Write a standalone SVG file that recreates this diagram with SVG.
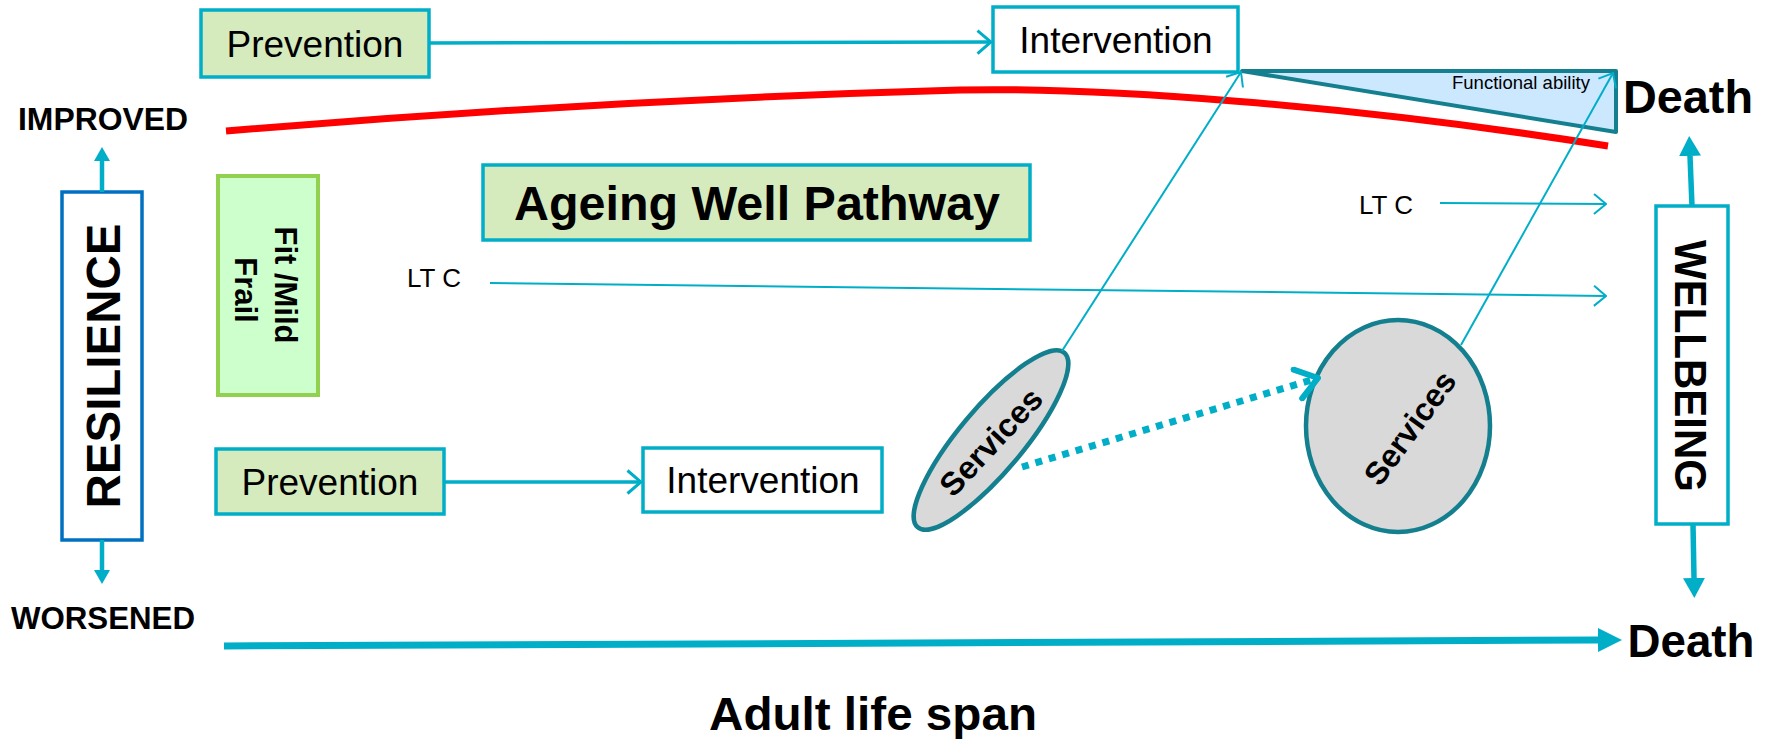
<svg xmlns="http://www.w3.org/2000/svg" width="1771" height="739" viewBox="0 0 1771 739">
  <style>
    text { font-family: "Liberation Sans", Arial, sans-serif; fill: #000; }
    .box { stroke: #00AEC8; stroke-width: 3.5; }
    .green { fill: #D6EBBD; }
    .white { fill: #FFFFFF; }
    .lbl { font-size: 37px; text-anchor: middle; }
    .bold { font-weight: bold; }
    .svc { fill: #D9D9D9; stroke: #14808F; stroke-width: 4.5; }
    .conn { fill: none; stroke: #00AEC8; }
  </style>
  <defs>
    <!-- open chevron heads -->
    <marker id="chev" viewBox="0 0 16 26" refX="15" refY="13" markerWidth="16" markerHeight="26" markerUnits="userSpaceOnUse" orient="auto">
      <path d="M1.5,1.5 L15,13 L1.5,24.5" fill="none" stroke="#00AEC8" stroke-width="3"/>
    </marker>
    <marker id="chevSm" viewBox="0 0 14 22" refX="13" refY="11" markerWidth="14" markerHeight="22" markerUnits="userSpaceOnUse" orient="auto">
      <path d="M1,1 L13,11 L1,21" fill="none" stroke="#00AEC8" stroke-width="2"/>
    </marker>
    <marker id="chevBold" viewBox="0 0 28 36" refX="24" refY="18" markerWidth="28" markerHeight="36" markerUnits="userSpaceOnUse" orient="auto">
      <path d="M3,3 L24,18 L3,33" fill="none" stroke="#00AEC8" stroke-width="6" stroke-linecap="round" stroke-linejoin="round"/>
    </marker>
    <!-- filled heads -->
    <marker id="headL" viewBox="0 0 24 24" refX="0" refY="12" markerWidth="24" markerHeight="24" markerUnits="userSpaceOnUse" orient="auto">
      <path d="M0,0 L24,12 L0,24 Z" fill="#00AEC8"/>
    </marker>
    <marker id="headM" viewBox="0 0 20 22" refX="0" refY="11" markerWidth="20" markerHeight="22" markerUnits="userSpaceOnUse" orient="auto">
      <path d="M0,0 L20,11 L0,22 Z" fill="#00AEC8"/>
    </marker>
    <marker id="headS" viewBox="0 0 14 16" refX="0" refY="8" markerWidth="14" markerHeight="16" markerUnits="userSpaceOnUse" orient="auto">
      <path d="M0,0 L14,8 L0,16 Z" fill="#00AEC8"/>
    </marker>
  </defs>

  <!-- side labels -->
  <text x="103" y="130" font-size="32" class="bold" text-anchor="middle" textLength="170" lengthAdjust="spacingAndGlyphs">IMPROVED</text>
  <text x="103" y="629" font-size="32" class="bold" text-anchor="middle" textLength="184" lengthAdjust="spacingAndGlyphs">WORSENED</text>
  <text x="1688" y="113" font-size="46" class="bold" text-anchor="middle" textLength="130" lengthAdjust="spacingAndGlyphs">Death</text>
  <text x="1691" y="657" font-size="46" class="bold" text-anchor="middle" textLength="127" lengthAdjust="spacingAndGlyphs">Death</text>
  <text x="873" y="730" font-size="47" class="bold" text-anchor="middle" textLength="328" lengthAdjust="spacingAndGlyphs">Adult life span</text>
  <text x="407" y="287" font-size="26">LT C</text>
  <text x="1359" y="214" font-size="26">LT C</text>

  <!-- functional ability trajectory -->
  <path id="trajectory" d="M226,131 Q600,100 960,90 C1100,87 1350,105 1608,146" fill="none" stroke="#FF0000" stroke-width="7"/>

  <!-- nodes -->
  <g id="resilience">
    <rect x="62" y="192" width="80" height="348" fill="#FFFFFF" stroke="#0070C0" stroke-width="3.5"/>
    <text transform="translate(120,366) rotate(-90)" font-size="47.5" class="bold" text-anchor="middle" textLength="285" lengthAdjust="spacingAndGlyphs">RESILIENCE</text>
  </g>
  <g id="fit-mild-frail">
    <rect x="218" y="176" width="100" height="219" fill="#CCFFCC" stroke="#92D050" stroke-width="4"/>
    <text transform="translate(275,285) rotate(90)" font-size="31" class="bold" text-anchor="middle">Fit /Mild</text>
    <text transform="translate(235,290) rotate(90)" font-size="31" class="bold" text-anchor="middle">Frail</text>
  </g>
  <g id="prevention-top">
    <rect x="201" y="10" width="228" height="67" class="box green"/>
    <text x="315" y="57" class="lbl">Prevention</text>
  </g>
  <g id="intervention-top">
    <rect x="993" y="7" width="245" height="65" class="box white"/>
    <text x="1116" y="53" class="lbl">Intervention</text>
  </g>
  <g id="ageing-well-pathway">
    <rect x="483" y="165" width="547" height="75" class="box green"/>
    <text x="757" y="220" font-size="47.5" class="bold" text-anchor="middle" textLength="486" lengthAdjust="spacingAndGlyphs">Ageing Well Pathway</text>
  </g>
  <g id="prevention-bottom">
    <rect x="216" y="449" width="228" height="65" class="box green"/>
    <text x="330" y="495" class="lbl">Prevention</text>
  </g>
  <g id="intervention-bottom">
    <rect x="643" y="448" width="239" height="64" class="box white"/>
    <text x="763" y="493" class="lbl">Intervention</text>
  </g>
  <g id="services-small">
    <ellipse cx="991" cy="440" rx="114" ry="32" transform="rotate(-50 991 440)" class="svc"/>
    <text transform="translate(991,442) rotate(-47)" y="11" font-size="32" class="bold" text-anchor="middle" textLength="134" lengthAdjust="spacingAndGlyphs">Services</text>
  </g>
  <g id="services-large">
    <ellipse cx="1398" cy="426" rx="92" ry="106" class="svc"/>
    <text transform="translate(1410,428) rotate(-54)" y="11" font-size="32" class="bold" text-anchor="middle" textLength="132" lengthAdjust="spacingAndGlyphs">Services</text>
  </g>
  <g id="functional-ability">
    <polygon points="1242,71 1616,71 1616,132" fill="#CCE8FF" stroke="#14808F" stroke-width="4" stroke-linejoin="round"/>
    <text x="1590" y="89" font-size="19" text-anchor="end" textLength="138" lengthAdjust="spacingAndGlyphs">Functional ability</text>
  </g>
  <g id="wellbeing">
    <rect x="1656" y="206" width="72" height="318" fill="#FFFFFF" stroke="#00AEC8" stroke-width="3.5"/>
    <text transform="translate(1675,366) rotate(90)" font-size="44" class="bold" text-anchor="middle" textLength="252" lengthAdjust="spacingAndGlyphs">WELLBEING</text>
  </g>

  <!-- connectors -->
  <g id="connectors">
    <line x1="429" y1="43" x2="991" y2="42" class="conn" stroke-width="3.5" marker-end="url(#chev)"/>
    <line x1="444" y1="482" x2="641" y2="482" class="conn" stroke-width="3.5" marker-end="url(#chev)"/>
    <line x1="490" y1="283" x2="1606" y2="296" class="conn" stroke-width="2" marker-end="url(#chevSm)"/>
    <line x1="1440" y1="203" x2="1606" y2="204" class="conn" stroke-width="2" marker-end="url(#chevSm)"/>
    <line x1="1062" y1="351" x2="1241" y2="72" class="conn" stroke-width="2" marker-end="url(#chevSm)"/>
    <line x1="1461" y1="345" x2="1613" y2="73" class="conn" stroke-width="2" marker-end="url(#chevSm)"/>
    <line x1="1022" y1="467" x2="1318" y2="378" class="conn" stroke-width="7" stroke-dasharray="7 7" marker-end="url(#chevBold)"/>
    <line x1="224" y1="646" x2="1598" y2="640" class="conn" stroke-width="7" marker-end="url(#headL)"/>
    <line x1="102" y1="192" x2="102" y2="161" class="conn" stroke-width="4.5" marker-end="url(#headS)"/>
    <line x1="102" y1="540" x2="102" y2="570" class="conn" stroke-width="4.5" marker-end="url(#headS)"/>
    <line x1="1692" y1="206" x2="1690" y2="156" class="conn" stroke-width="5.5" marker-end="url(#headM)"/>
    <line x1="1693" y1="524" x2="1694" y2="578" class="conn" stroke-width="5.5" marker-end="url(#headM)"/>
  </g>
</svg>
